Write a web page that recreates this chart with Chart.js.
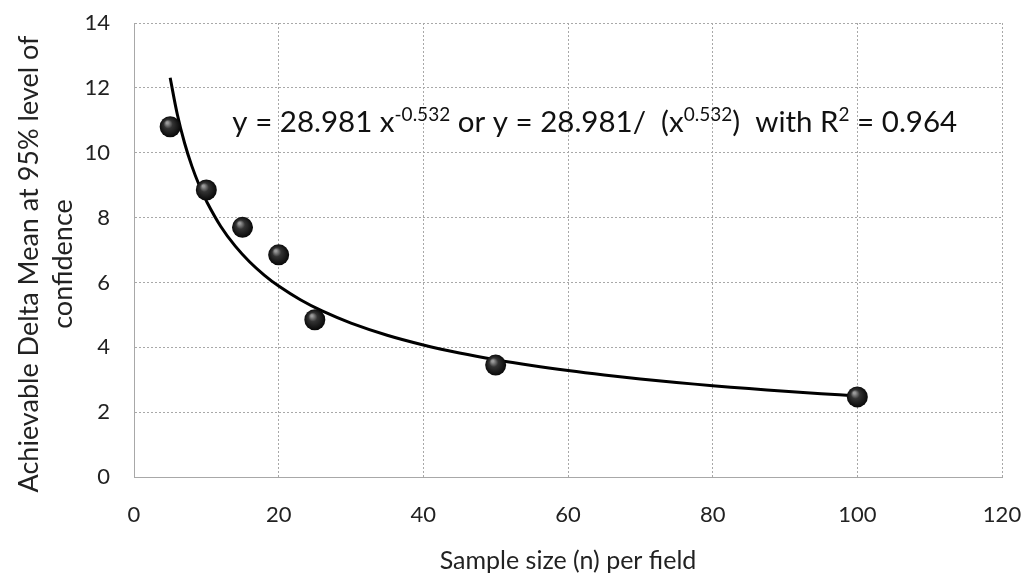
<!DOCTYPE html>
<html>
<head>
<meta charset="utf-8">
<script src="https://cdn.jsdelivr.net/npm/chart.js@4.4.1/dist/chart.umd.min.js"></script>
<style>
  html, body { margin: 0; padding: 0; background: #fff; }
  #wrap { width: 1028px; height: 576px; }
</style>
</head>
<body>
<div id="wrap"><canvas id="deltaChart" width="1028" height="576"></canvas></div>
<script>
// sample sizes and the achievable delta mean measured for each
const sampleSizes = [5, 10, 15, 20, 25, 50, 100];
const deltaMeans = [10.8, 8.85, 7.7, 6.85, 4.85, 3.45, 2.47];

// power trend fitted to the measurements (coefficients from the equation label)
const fitCoef = 28.981;
const fitExp = -0.532;
const fitR2 = 0.964;
const fitX = [5, 6, 7, 8, 9, 10, 12, 14, 16, 18, 20, 23, 26, 30, 35, 40, 45, 50, 55, 60, 65, 70, 75, 80, 85, 90, 95, 100];

const xTicks = [0, 20, 40, 60, 80, 100, 120];
const yTicks = [0, 2, 4, 6, 8, 10, 12, 14];
const yTitleLines = ["Achievable Delta Mean at 95% level of", "confidence"];

const FONT = "Lato, 'Open Sans', sans-serif";

const fitPoints = fitX.map(x => ({ x: x, y: fitCoef * Math.pow(x, fitExp) }));
const measured = sampleSizes.map((x, i) => ({ x: x, y: deltaMeans[i] }));

// shaded black ball for each measured point
function ballFill(context) {
  const chart = context.chart;
  const raw = context.raw;
  if (!raw || !chart.scales.x) return "#111";
  const px = chart.scales.x.getPixelForValue(raw.x);
  const py = chart.scales.y.getPixelForValue(raw.y);
  if (!isFinite(px) || !isFinite(py)) return "#111";
  const g = chart.ctx.createRadialGradient(px - 3, py - 4, 1, px, py, 11);
  g.addColorStop(0, "#9a9a9a");
  g.addColorStop(0.35, "#333");
  g.addColorStop(1, "#050505");
  return g;
}

// equation text with superscripts, placed in data space
const equationLabel = {
  id: "equationLabel",
  afterDatasetsDraw(chart) {
    const ctx = chart.ctx;
    let x = chart.scales.x.getPixelForValue(13.6);
    const y = chart.scales.y.getPixelForValue(10.65);
    const big = "29.5px " + FONT;
    const small = "19px " + FONT;
    const parts = [
      ["y = " + fitCoef + " x", big, 0],
      [String(fitExp), small, -11],
      [" or y = " + fitCoef + "/  (x", big, 0],
      [String(-fitExp), small, -11],
      [")  with R", big, 0],
      ["2", small, -11],
      [" = " + fitR2, big, 0]
    ];
    ctx.save();
    ctx.fillStyle = "#111";
    ctx.textBaseline = "alphabetic";
    ctx.textAlign = "left";
    parts.forEach(([txt, font, dy]) => {
      ctx.font = font;
      ctx.fillText(txt, x, y + dy);
      x += ctx.measureText(txt).width;
    });
    ctx.restore();
  }
};

// two-line rotated title for the value axis
const yAxisTitle = {
  id: "yAxisTitle",
  afterDraw(chart) {
    const ctx = chart.ctx;
    const cy = (chart.chartArea.top + chart.chartArea.bottom) / 2 + 14;
    ctx.save();
    ctx.fillStyle = "#222";
    ctx.font = "27px " + FONT;
    ctx.textAlign = "center";
    ctx.textBaseline = "middle";
    yTitleLines.forEach((line, i) => {
      ctx.save();
      ctx.translate(29 + i * 34, cy);
      ctx.rotate(-Math.PI / 2);
      ctx.fillText(line, 0, 0);
      ctx.restore();
    });
    ctx.restore();
  }
};

new Chart(document.getElementById("deltaChart"), {
  type: "scatter",
  data: {
    datasets: [
      {
        label: "Power trend",
        type: "line",
        data: fitPoints,
        borderColor: "#000",
        borderWidth: 3,
        pointRadius: 0,
        tension: 0.4,
        fill: false,
        order: 2
      },
      {
        label: "Achievable delta mean",
        data: measured,
        pointRadius: 10.5,
        pointHoverRadius: 10.5,
        pointBorderWidth: 0,
        pointBackgroundColor: ballFill,
        backgroundColor: ballFill,
        borderColor: "rgba(0,0,0,0)",
        order: 1
      }
    ]
  },
  options: {
    responsive: false,
    animation: false,
    events: [],
    layout: { padding: { left: 10, right: 26, top: 23, bottom: 0 } },
    plugins: {
      legend: { display: false },
      tooltip: { enabled: false }
    },
    scales: {
      x: {
        type: "linear",
        min: 0,
        max: 120,
        afterBuildTicks: axis => { axis.ticks = xTicks.map(v => ({ value: v })); },
        afterFit: axis => {
          axis.height = 99;
          axis.paddingLeft = 0;
          axis.paddingRight = 0;
        },
        grid: { color: "#a8a8a8", lineWidth: 1, drawTicks: false },
        border: { display: true, color: "#a8a8a8", dash: [2, 2] },
        ticks: {
          color: "#222",
          font: { family: FONT, size: 22 },
          padding: 25
        },
        title: {
          display: true,
          text: "Sample size (n) per field",
          color: "#222",
          font: { family: FONT, size: 25 },
          padding: { top: 8, bottom: 0 }
        }
      },
      y: {
        type: "linear",
        min: 0,
        max: 14,
        afterBuildTicks: axis => { axis.ticks = yTicks.map(v => ({ value: v })); },
        afterFit: axis => {
          axis.width = 124;
          axis.paddingTop = 0;
          axis.paddingBottom = 0;
        },
        grid: { color: "#a8a8a8", lineWidth: 1, drawTicks: false },
        border: { display: true, color: "#a8a8a8", dash: [2, 2] },
        ticks: {
          color: "#222",
          font: { family: FONT, size: 22 },
          padding: 24
        },
        title: { display: false }
      }
    }
  },
  plugins: [equationLabel, yAxisTitle]
});
</script>
</body>
</html>
